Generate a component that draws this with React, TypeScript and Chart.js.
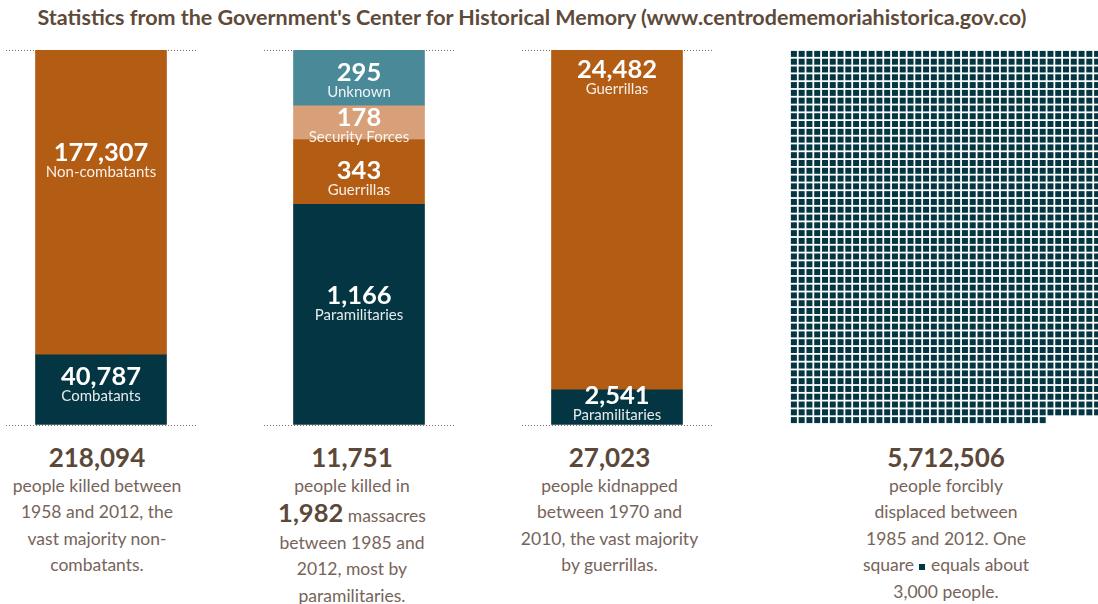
import React, { useEffect, useRef } from "react";
import { Chart, registerables } from "chart.js";

Chart.register(...registerables);

// ---------- data ----------
const killedLabels = ["Combatants", "Non-combatants"];
const killedValues = [40787, 177307];

const massacreLabels = ["Paramilitaries", "Guerrillas", "Security Forces", "Unknown"];
const massacreValues = [1166, 343, 178, 295];

const kidnapLabels = ["Paramilitaries", "Guerrillas"];
const kidnapValues = [2541, 24482];

const waffleColumns = 40;
const waffleSquares = 1913; // squares drawn, one per ~3,000 displaced people

const captionNumbers = ["218,094", "11,751", "27,023", "5,712,506"];

// ---------- styles ----------
const ORANGE = "#b35c14";
const DARK = "#033642";
const TEAL = "#4a8998";
const TAN = "#d8a078";
const FONT = "Lato, 'Open Sans', sans-serif";
const TITLE_COLOR = "#5e4a3a";
const NUM_COLOR = "#5c4838";
const TEXT_COLOR = "#76645a";

const killedColors = [DARK, ORANGE];
const massacreColors = [DARK, ORANGE, TAN, TEAL];
const kidnapColors = [DARK, ORANGE];

// where the label block sits inside each segment (0 = top, 1 = bottom)
const killedAnchors = [0.42, 0.36];
const massacreAnchors = [0.45, 0.59, 0.57, 0.53];
const kidnapAnchors = [0.39, 0.08];

const PAD = 3;
const TOP = 50;
const PLOT_H = 375;

const segmentLabelPlugin = {
  id: "segmentLabels",
  afterDatasetsDraw(chart: any) {
    const ctx = chart.ctx;
    const anchors: number[] = chart.options.plugins.segmentLabels.anchors;
    chart.data.datasets.forEach((ds: any, i: number) => {
      const el = chart.getDatasetMeta(i).data[0];
      if (!el) return;
      const top = Math.min(el.y, el.base);
      const bottom = Math.max(el.y, el.base);
      const cy = top + anchors[i] * (bottom - top);
      ctx.save();
      ctx.textAlign = "center";
      ctx.textBaseline = "alphabetic";
      ctx.fillStyle = "#ffffff";
      ctx.font = `bold 25.5px ${FONT}`;
      ctx.fillText(Number(ds.data[0]).toLocaleString("en-US"), el.x, cy + 1);
      ctx.fillStyle = "rgba(255,255,255,0.9)";
      ctx.font = `15px ${FONT}`;
      ctx.fillText(ds.label, el.x, cy + 17);
      ctx.restore();
    });
  },
};

function BarPanel(props: {
  center: number;
  labels: string[];
  values: number[];
  colors: string[];
  anchors: number[];
}) {
  const ref = useRef<HTMLCanvasElement>(null);
  useEffect(() => {
    const total = props.values.reduce((a, b) => a + b, 0);
    const chart = new Chart(ref.current as HTMLCanvasElement, {
      type: "bar",
      data: {
        labels: [""],
        datasets: props.values.map((v, i) => ({
          label: props.labels[i],
          data: [v],
          backgroundColor: props.colors[i],
          borderWidth: 0,
          barThickness: 131,
          stack: "s",
        })),
      },
      options: {
        animation: false,
        responsive: true,
        maintainAspectRatio: false,
        events: [],
        layout: { padding: { top: PAD, bottom: PAD, left: 0, right: 0 } },
        plugins: {
          legend: { display: false },
          tooltip: { enabled: false },
          segmentLabels: { anchors: props.anchors },
        } as any,
        scales: {
          x: { stacked: true, display: false },
          y: {
            stacked: true,
            min: 0,
            max: total,
            display: true,
            ticks: { display: false, stepSize: total },
            grid: { drawTicks: false, color: "#8a6a55", lineWidth: 1 },
            border: { display: false, dash: [1, 2] },
          },
        },
      },
      plugins: [segmentLabelPlugin],
    });
    return () => chart.destroy();
  }, []);
  return (
    <div
      style={{
        position: "absolute",
        left: props.center - 95,
        top: TOP - PAD,
        width: 190,
        height: PLOT_H + 2 * PAD,
      }}
    >
      <canvas ref={ref} />
    </div>
  );
}

function Waffle() {
  const ref = useRef<HTMLCanvasElement>(null);
  useEffect(() => {
    const rows = Math.ceil(waffleSquares / waffleColumns);
    const pts = Array.from({ length: waffleSquares }, (_, i) => ({
      x: i % waffleColumns,
      y: Math.floor(i / waffleColumns),
    }));
    const chart = new Chart(ref.current as HTMLCanvasElement, {
      type: "scatter",
      data: {
        datasets: [
          {
            data: pts,
            pointStyle: "rect",
            pointRadius: 4.243,
            pointHoverRadius: 4.243,
            backgroundColor: DARK,
            borderWidth: 0,
          },
        ],
      },
      options: {
        animation: false,
        responsive: true,
        maintainAspectRatio: false,
        events: [],
        layout: { padding: 0, autoPadding: false },
        plugins: { legend: { display: false }, tooltip: { enabled: false } },
        scales: {
          x: { display: false, min: -0.5, max: waffleColumns - 0.5 },
          y: { display: false, min: -0.5, max: rows - 0.5, reverse: true },
        },
      },
    });
    return () => chart.destroy();
  }, []);
  return (
    <div style={{ position: "absolute", left: 790, top: 50, width: 311, height: 374 }}>
      <canvas ref={ref} />
    </div>
  );
}

function Caption(props: { center: number; number: string; children: React.ReactNode }) {
  return (
    <>
      <div
        style={{
          position: "absolute",
          left: props.center - 130,
          width: 260,
          top: 442,
          height: 30,
          lineHeight: "30px",
          textAlign: "center",
          fontFamily: FONT,
          fontWeight: 700,
          fontSize: 26,
          color: NUM_COLOR,
        }}
      >
        {props.number}
      </div>
      <div
        style={{
          position: "absolute",
          left: props.center - 130,
          width: 260,
          top: 472.75,
          lineHeight: "26.5px",
          textAlign: "center",
          fontFamily: FONT,
          fontSize: 17.5,
          color: TEXT_COLOR,
        }}
      >
        {props.children}
      </div>
    </>
  );
}

export default function App() {
  return (
    <div
      style={{
        position: "absolute",
        left: 0,
        top: 0,
        width: 1098,
        height: 604,
        overflow: "hidden",
        background: "#ffffff",
      }}
    >
      <div
        style={{
          position: "absolute",
          left: 0,
          top: 2,
          width: 1064,
          textAlign: "center",
          fontFamily: FONT,
          fontWeight: 700,
          fontSize: 21.5,
          lineHeight: "30px",
          color: TITLE_COLOR,
          whiteSpace: "nowrap",
        }}
      >
        Statistics from the Government's Center for Historical Memory (www.centrodememoriahistorica.gov.co)
      </div>

      <BarPanel center={100.5} labels={killedLabels} values={killedValues} colors={killedColors} anchors={killedAnchors} />
      <BarPanel center={358.5} labels={massacreLabels} values={massacreValues} colors={massacreColors} anchors={massacreAnchors} />
      <BarPanel center={616.5} labels={kidnapLabels} values={kidnapValues} colors={kidnapColors} anchors={kidnapAnchors} />
      <Waffle />

      <Caption center={97} number={captionNumbers[0]}>
        people killed between
        <br />
        1958 and 2012, the
        <br />
        vast majority non-
        <br />
        combatants.
      </Caption>
      <Caption center={352} number={captionNumbers[1]}>
        people killed in
        <br />
        <span style={{ fontWeight: 700, fontSize: 25.5, color: NUM_COLOR }}>
          {massacreValues.reduce((a, b) => a + b, 0).toLocaleString("en-US")}
        </span>{" "}
        massacres
        <br />
        between 1985 and
        <br />
        2012, most by
        <br />
        paramilitaries.
      </Caption>
      <Caption center={609.5} number={captionNumbers[2]}>
        people kidnapped
        <br />
        between 1970 and
        <br />
        2010, the vast majority
        <br />
        by guerrillas.
      </Caption>
      <Caption center={946} number={captionNumbers[3]}>
        people forcibly
        <br />
        displaced between
        <br />
        1985 and 2012. One
        <br />
        square{" "}
        <span
          style={{
            display: "inline-block",
            width: 6,
            height: 6,
            background: DARK,
            verticalAlign: "middle",
            margin: "0 1px",
          }}
        />{" "}
        equals about
        <br />
        3,000 people.
      </Caption>
    </div>
  );
}
